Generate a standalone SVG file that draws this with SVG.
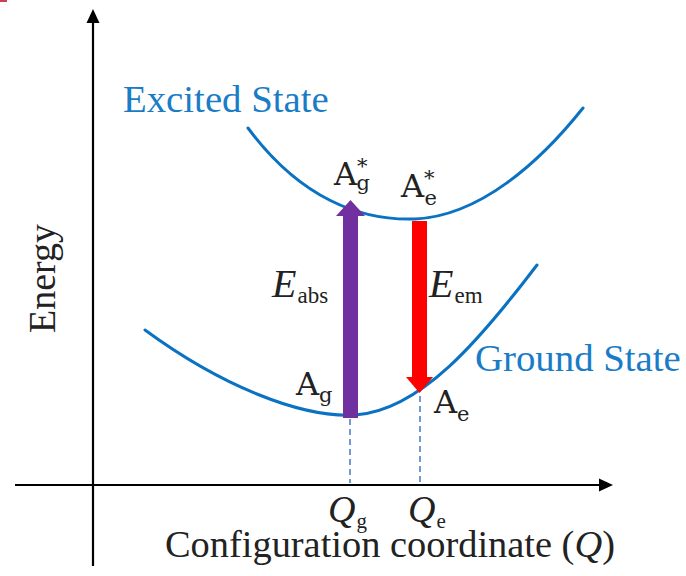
<svg xmlns="http://www.w3.org/2000/svg" width="686" height="576" viewBox="0 0 686 576">
<style>
.curve{fill:none;stroke:#0a72c2;stroke-width:3;stroke-linecap:round}
.axis{stroke:#000;stroke-width:2.2;fill:none}
.dash{stroke:#6f9ad6;stroke-width:2;stroke-dasharray:6 4;fill:none}
.t{font-family:"Liberation Serif","Times New Roman",serif;fill:#222}
.blue{font-family:"Liberation Serif","Times New Roman",serif;fill:#1a7cc6;font-size:38.8px}
.A{font-family:"DejaVu Serif","Liberation Serif",serif;fill:#222;font-size:32px}
.s{font-size:21px}
</style>
<rect x="0" y="0" width="7" height="2" fill="#c8405a"/>
<g id="connectors">
<line class="axis" x1="93" y1="566" x2="93" y2="20"/>
<polygon points="93,9 86.5,23 99.5,23" fill="#000"/>
<line class="axis" x1="15" y1="485" x2="602" y2="485"/>
<polygon points="613,485 599,478.5 599,491.5" fill="#000"/>
<line class="dash" x1="350" y1="419" x2="350" y2="483"/>
<line class="dash" x1="420" y1="396" x2="420" y2="483"/>
</g>
<g id="excited-state">
<path class="curve" d="M248,128 C300,198 360,221 415,219 C480,216 540,162 583,108"/>
<text class="blue" x="123" y="112">Excited State</text>
</g>
<g id="ground-state">
<path class="curve" d="M145,330 C220,385 300,418 355,415 C420,411 480,340 537,265"/>
<text class="blue" x="475" y="371">Ground State</text>
</g>
<g id="absorption">
<rect x="343" y="214" width="15" height="204" fill="#7030a0"/>
<polygon points="350.5,200 336,216 365,216" fill="#7030a0"/>
<text class="t" x="272" y="297"><tspan font-size="40" font-style="italic">E</tspan><tspan font-size="23" dy="6" dx="1">abs</tspan></text>
</g>
<g id="emission">
<rect x="412" y="221" width="15" height="158" fill="#ff0000"/>
<polygon points="419.5,393 406,377 433,377" fill="#ff0000"/>
<text class="t" x="429" y="297"><tspan font-size="40" font-style="italic">E</tspan><tspan font-size="23" dy="6" dx="1">em</tspan></text>
</g>
<g id="Ag-star">
<text class="A" x="334" y="185">A<tspan class="s" dy="-12">*</tspan><tspan class="s" dx="-11" dy="17">g</tspan></text>
</g>
<g id="Ae-star">
<text class="A" x="401" y="197">A<tspan class="s" dy="-12">*</tspan><tspan class="s" dx="-10" dy="20">e</tspan></text>
</g>
<g id="Ag">
<text class="A" x="296" y="395">A<tspan class="s" dy="7">g</tspan></text>
</g>
<g id="Ae">
<text class="A" x="434" y="413">A<tspan class="s" dy="8">e</tspan></text>
</g>
<g id="labels">
<text class="t" x="328" y="522"><tspan font-size="38" font-style="italic">Q</tspan><tspan font-size="21" dy="6" dx="1">g</tspan></text>
<text class="t" x="408" y="522"><tspan font-size="38" font-style="italic">Q</tspan><tspan font-size="21" dy="6" dx="1">e</tspan></text>
<text class="t" x="165" y="557" font-size="38.4">Configuration coordinate (<tspan font-style="italic">Q</tspan>)</text>
<text class="t" transform="translate(55,333) rotate(-90)" font-size="38">Energy</text>
</g>
</svg>
